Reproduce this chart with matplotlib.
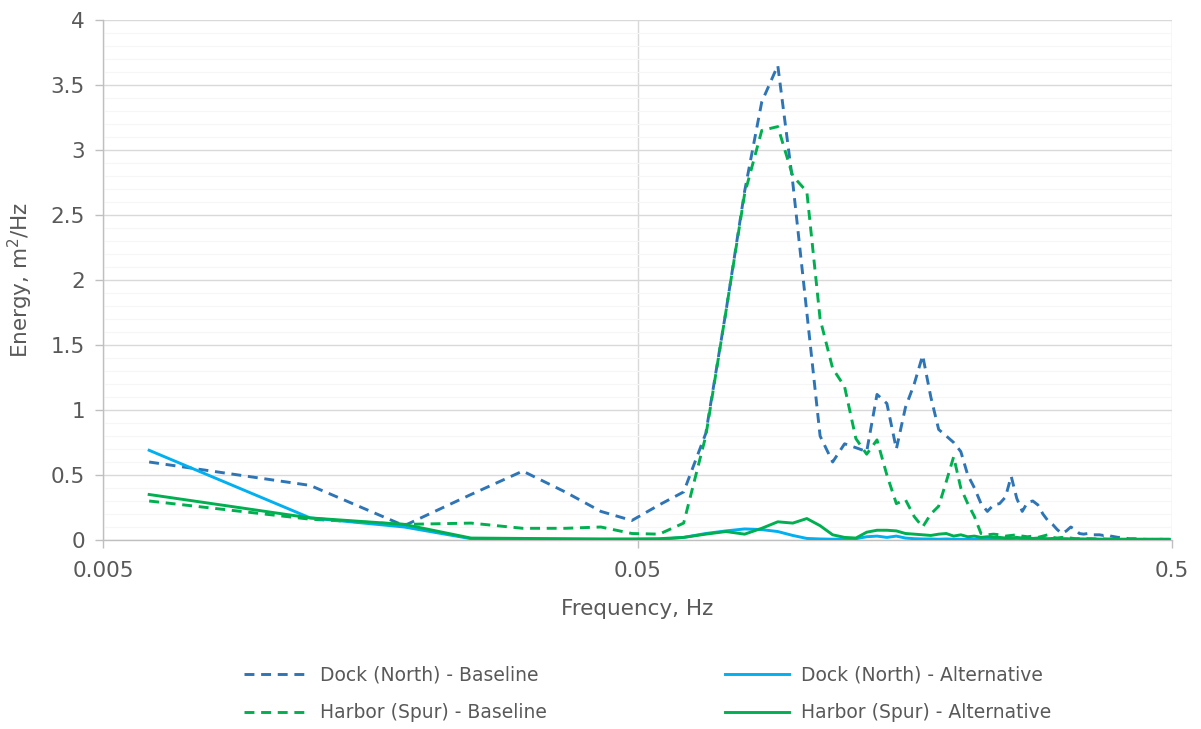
import matplotlib
matplotlib.use("Agg")
import matplotlib.pyplot as plt
from matplotlib.ticker import FixedLocator, MultipleLocator, NullLocator, FuncFormatter

plt.rcParams['font.family'] = ['DejaVu Sans']

# Spectral frequency bins (Hz)
freq = [0.0061, 0.0122, 0.0183, 0.0244, 0.0305, 0.0366, 0.0427, 0.0488, 0.0549, 0.0610,
        0.0671, 0.0732, 0.0793, 0.0854, 0.0915, 0.0976, 0.1037, 0.1098, 0.1159, 0.1220,
        0.1281, 0.1342, 0.1403, 0.1464, 0.1525, 0.1586, 0.1647, 0.1708, 0.1769, 0.1830,
        0.1891, 0.1952, 0.2013, 0.2074, 0.2135, 0.2196, 0.2257, 0.2318, 0.2379, 0.2440,
        0.2501, 0.2562, 0.2623, 0.2684, 0.2745, 0.2806, 0.2867, 0.2928, 0.2989, 0.3050,
        0.3111, 0.3172, 0.3233, 0.3294, 0.3355, 0.3416, 0.3477, 0.3538, 0.3599, 0.3660,
        0.3721, 0.3782, 0.3843, 0.3904, 0.3965, 0.4026, 0.4087, 0.4148, 0.4209, 0.4270,
        0.4331, 0.4392, 0.4453, 0.4514, 0.4575, 0.4636, 0.4697, 0.4758, 0.4819, 0.4880,
        0.4941]

# Energy density (m^2/Hz)
dock_baseline = [0.60, 0.42, 0.11, 0.35, 0.53, 0.37, 0.22, 0.15, 0.27, 0.37,
                 0.82, 1.76, 2.68, 3.37, 3.65, 2.75, 1.75, 0.80, 0.60, 0.74,
                 0.71, 0.68, 1.12, 1.05, 0.70, 1.02, 1.20, 1.42, 1.10, 0.85,
                 0.80, 0.75, 0.68, 0.50, 0.40, 0.28, 0.22, 0.27, 0.28, 0.33,
                 0.49, 0.32, 0.22, 0.29, 0.30, 0.27, 0.20, 0.15, 0.12, 0.08,
                 0.05, 0.07, 0.10, 0.08, 0.05, 0.045, 0.05, 0.04, 0.04, 0.04,
                 0.035, 0.04, 0.03, 0.025, 0.02, 0.02, 0.015, 0.01, 0.01, 0.01,
                 0.005, 0.005, 0.005, 0.005, 0.005, 0.005, 0.005, 0.005, 0.005, 0.005,
                 0.005]
harbor_baseline = [0.30, 0.16, 0.12, 0.13, 0.09, 0.09, 0.10, 0.05, 0.045, 0.13,
                   0.80, 1.76, 2.66, 3.15, 3.18, 2.80, 2.68, 1.70, 1.32, 1.18,
                   0.78, 0.66, 0.77, 0.50, 0.28, 0.31, 0.18, 0.10, 0.20, 0.26,
                   0.45, 0.64, 0.40, 0.28, 0.18, 0.05, 0.04, 0.045, 0.04, 0.03,
                   0.035, 0.04, 0.03, 0.025, 0.03, 0.02, 0.03, 0.04, 0.02, 0.015,
                   0.02, 0.015, 0.015, 0.01, 0.01, 0.012, 0.01, 0.01, 0.008, 0.008,
                   0.008, 0.006, 0.006, 0.006, 0.005, 0.005, 0.005, 0.005, 0.005, 0.005,
                   0.005, 0.005, 0.005, 0.005, 0.005, 0.005, 0.005, 0.005, 0.005, 0.005,
                   0.005]
dock_alternative = [0.69, 0.17, 0.10, 0.01, 0.005, 0.005, 0.005, 0.005, 0.005, 0.02,
                    0.05, 0.07, 0.085, 0.08, 0.065, 0.035, 0.012, 0.008, 0.006, 0.008,
                    0.01, 0.025, 0.03, 0.02, 0.03, 0.015, 0.01, 0.008, 0.008, 0.006,
                    0.008, 0.006, 0.005, 0.005, 0.006, 0.005, 0.005, 0.005, 0.005, 0.005,
                    0.005, 0.005, 0.005, 0.005, 0.005, 0.005, 0.005, 0.005, 0.005, 0.005,
                    0.005, 0.005, 0.005, 0.005, 0.005, 0.005, 0.005, 0.005, 0.005, 0.005,
                    0.005, 0.005, 0.005, 0.005, 0.005, 0.005, 0.005, 0.005, 0.005, 0.005,
                    0.005, 0.005, 0.005, 0.005, 0.005, 0.005, 0.005, 0.005, 0.005, 0.005,
                    0.005]
harbor_alternative = [0.35, 0.17, 0.12, 0.015, 0.012, 0.01, 0.008, 0.008, 0.01, 0.02,
                      0.045, 0.065, 0.045, 0.09, 0.14, 0.13, 0.165, 0.11, 0.04, 0.02,
                      0.015, 0.06, 0.075, 0.075, 0.07, 0.05, 0.045, 0.04, 0.035, 0.045,
                      0.05, 0.03, 0.04, 0.025, 0.03, 0.02, 0.025, 0.02, 0.02, 0.015,
                      0.015, 0.02, 0.015, 0.015, 0.012, 0.015, 0.012, 0.01, 0.012, 0.01,
                      0.01, 0.01, 0.008, 0.008, 0.008, 0.008, 0.007, 0.007, 0.007, 0.006,
                      0.006, 0.006, 0.006, 0.005, 0.005, 0.005, 0.005, 0.005, 0.005, 0.005,
                      0.005, 0.005, 0.005, 0.005, 0.005, 0.005, 0.005, 0.005, 0.005, 0.005,
                      0.005]

series_labels = ["Dock (North) - Baseline", "Harbor (Spur) - Baseline",
                 "Dock (North) - Alternative", "Harbor (Spur) - Alternative"]
x_ticks = [0.005, 0.05, 0.5]
x_tick_labels = ["0.005", "0.05", "0.5"]

text_grey = "#595959"
grid_grey = "#d9d9d9"

fig = plt.figure(figsize=(12.01, 7.29), dpi=100)
ax = fig.add_axes([103 / 1201, 1 - 540 / 729, (1172 - 103) / 1201, 520 / 729])

lw = 2.1
dash = (3.4, 2.3)
ax.plot(freq, dock_baseline, color="#2E75B6", lw=lw, dashes=dash, label=series_labels[0], zorder=3)
ax.plot(freq, harbor_baseline, color="#00B050", lw=lw, dashes=dash, label=series_labels[1], zorder=3)
ax.plot(freq, dock_alternative, color="#00B0F0", lw=lw, label=series_labels[2], zorder=4)
ax.plot(freq, harbor_alternative, color="#00B050", lw=lw, label=series_labels[3], zorder=4)

ax.set_xscale("log")
ax.set_xlim(0.005, 0.5)
ax.set_ylim(0, 4)
ax.xaxis.set_major_locator(FixedLocator(x_ticks))
ax.xaxis.set_minor_locator(NullLocator())
ax.set_xticklabels(x_tick_labels)
ax.yaxis.set_major_locator(MultipleLocator(0.5))
ax.yaxis.set_minor_locator(MultipleLocator(0.1))
ax.yaxis.set_major_formatter(FuncFormatter(lambda v, p: f"{v:g}"))

ax.grid(True, which="major", axis="both", color=grid_grey, lw=1.0, zorder=0)
ax.grid(True, which="minor", axis="y", color="#f6f6f6", lw=0.8, zorder=0)
ax.set_axisbelow(True)

for side in ("top", "right"):
    ax.spines[side].set_visible(False)
for side in ("left", "bottom"):
    ax.spines[side].set_color("#bfbfbf")
    ax.spines[side].set_linewidth(1.0)

ax.tick_params(axis="both", which="major", colors="#bfbfbf", labelcolor=text_grey,
               labelsize=15.5, length=6, width=1.0, direction="out")
ax.tick_params(axis="y", which="minor", length=0)
ax.tick_params(axis="y", which="major", pad=7)
ax.tick_params(axis="x", which="major", pad=9)

ax.set_xlabel("Frequency, Hz", fontsize=15.5, color=text_grey, labelpad=13)
ax.set_ylabel("Energy, m$^2$/Hz", fontsize=15.5, color=text_grey, labelpad=11)

fig.legend(loc="center", bbox_to_anchor=(648 / 1201, 1 - 694 / 729), ncol=2,
           frameon=False, fontsize=13.5, labelcolor=text_grey, handlelength=3.4,
           handletextpad=0.65, columnspacing=9.5, labelspacing=1.0)

fig.savefig("out.png", dpi=100, facecolor="white")
